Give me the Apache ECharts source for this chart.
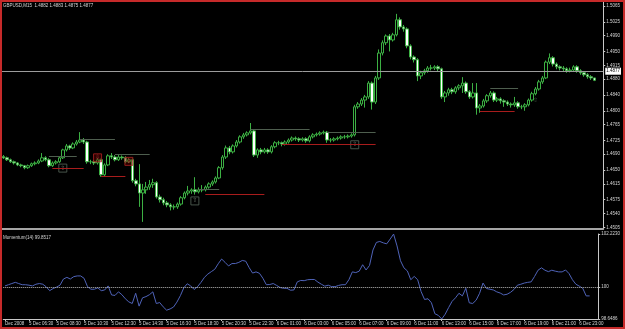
<!DOCTYPE html>
<html>
<head>
<meta charset="utf-8">
<title>GBPUSD,M15</title>
<script src="https://cdn.jsdelivr.net/npm/echarts@6/dist/echarts.min.js"></script>
<style>
html, body { margin: 0; padding: 0; background: #000; }
#chart { width: 625px; height: 329px; box-sizing: border-box; border: 2px solid #c62a2a; background: #000; }
</style>
</head>
<body>
<div id="chart"></div>
<script>
//K线数据 (M15)
var opens = [
	1.4684,1.4681,1.4676,1.4671,1.4668,1.4663,1.4661,1.4656,1.4661,1.4666,
	1.4668,1.4673,1.4681,1.4676,1.4661,1.4668,1.4671,1.4681,1.4701,1.4711,
	1.4706,1.4716,1.4721,1.4726,1.4721,1.4671,1.4671,1.4668,1.4676,1.4638,
	1.4663,1.4686,1.4683,1.4676,1.4683,1.4681,1.4671,1.4676,1.4623,1.4615,
	1.4592,1.4600,1.4607,1.4613,1.4618,1.4582,1.4575,1.4567,1.4562,1.4557,
	1.4557,1.4564,1.4580,1.4592,1.4597,1.4600,1.4595,1.4600,1.4600,1.4607,
	1.4615,1.4620,1.4630,1.4656,1.4683,1.4706,1.4696,1.4711,1.4721,1.4734,
	1.4739,1.4744,1.4749,1.4688,1.4701,1.4696,1.4701,1.4696,1.4709,1.4719,
	1.4719,1.4716,1.4721,1.4726,1.4731,1.4729,1.4726,1.4729,1.4724,1.4734,
	1.4739,1.4741,1.4744,1.4746,1.4726,1.4726,1.4729,1.4731,1.4734,1.4734,
	1.4736,1.4739,1.4810,1.4817,1.4827,1.4835,1.4870,1.4822,1.4883,1.4946,
	1.4972,1.4989,1.4979,1.4992,1.5030,1.5012,1.5007,1.4964,1.4936,1.4929,
	1.4888,1.4896,1.4901,1.4908,1.4908,1.4911,1.4906,1.4835,1.4845,1.4853,
	1.4848,1.4858,1.4863,1.4870,1.4848,1.4835,1.4845,1.4807,1.4812,1.4825,
	1.4838,1.4845,1.4827,1.4830,1.4825,1.4822,1.4817,1.4815,1.4820,1.4810,
	1.4810,1.4815,1.4827,1.4843,1.4855,1.4873,1.4883,1.4923,1.4934,1.4918,
	1.4911,1.4908,1.4906,1.4901,1.4903,1.4911,1.4901,1.4896,1.4891,1.4886,1.4883
];
var closes = [
	1.4681,1.4676,1.4671,1.4668,1.4663,1.4661,1.4656,1.4661,1.4666,1.4668,
	1.4673,1.4681,1.4676,1.4661,1.4668,1.4671,1.4681,1.4701,1.4711,1.4706,
	1.4716,1.4721,1.4726,1.4721,1.4671,1.4671,1.4668,1.4676,1.4638,1.4663,
	1.4686,1.4683,1.4676,1.4683,1.4681,1.4671,1.4676,1.4623,1.4615,1.4592,
	1.4600,1.4607,1.4613,1.4618,1.4582,1.4575,1.4567,1.4562,1.4557,1.4557,
	1.4564,1.4580,1.4592,1.4597,1.4600,1.4595,1.4600,1.4600,1.4607,1.4615,
	1.4620,1.4630,1.4656,1.4683,1.4706,1.4696,1.4711,1.4721,1.4734,1.4739,
	1.4744,1.4749,1.4688,1.4701,1.4696,1.4701,1.4696,1.4709,1.4719,1.4719,
	1.4716,1.4721,1.4726,1.4731,1.4729,1.4726,1.4729,1.4724,1.4734,1.4739,
	1.4741,1.4744,1.4746,1.4726,1.4726,1.4729,1.4731,1.4734,1.4734,1.4736,
	1.4739,1.4810,1.4817,1.4827,1.4835,1.4870,1.4822,1.4883,1.4946,1.4972,
	1.4989,1.4979,1.4992,1.5030,1.5012,1.5007,1.4964,1.4936,1.4929,1.4888,
	1.4896,1.4901,1.4908,1.4908,1.4911,1.4906,1.4835,1.4845,1.4853,1.4848,
	1.4858,1.4863,1.4870,1.4848,1.4835,1.4845,1.4807,1.4812,1.4825,1.4838,
	1.4845,1.4827,1.4830,1.4825,1.4822,1.4817,1.4815,1.4820,1.4810,1.4810,
	1.4815,1.4827,1.4843,1.4855,1.4873,1.4883,1.4923,1.4934,1.4918,1.4911,
	1.4908,1.4906,1.4901,1.4903,1.4911,1.4901,1.4896,1.4891,1.4886,1.4883,1.4877
];
var lows = [
	1.4678,1.4673,1.4668,1.4664,1.4660,1.4657,1.4652,1.4653,1.4658,1.4662,
	1.4665,1.4670,1.4672,1.4657,1.4658,1.4664,1.4668,1.4678,1.4697,1.4701,
	1.4703,1.4712,1.4718,1.4716,1.4666,1.4665,1.4663,1.4664,1.4633,1.4635,
	1.4660,1.4678,1.4672,1.4673,1.4676,1.4667,1.4668,1.4618,1.4609,1.4557,
	1.4519,1.4590,1.4600,1.4605,1.4578,1.4568,1.4561,1.4556,1.4548,1.4550,
	1.4552,1.4560,1.4576,1.4586,1.4590,1.4588,1.4591,1.4594,1.4596,1.4603,
	1.4610,1.4616,1.4627,1.4651,1.4678,1.4690,1.4692,1.4707,1.4717,1.4729,
	1.4735,1.4740,1.4683,1.4681,1.4690,1.4692,1.4691,1.4692,1.4705,1.4713,
	1.4710,1.4712,1.4717,1.4722,1.4724,1.4721,1.4722,1.4719,1.4720,1.4730,
	1.4735,1.4737,1.4740,1.4719,1.4720,1.4722,1.4725,1.4727,1.4729,1.4730,
	1.4732,1.4735,1.4805,1.4812,1.4808,1.4830,1.4803,1.4817,1.4878,1.4940,
	1.4966,1.4950,1.4975,1.4988,1.5005,1.5000,1.4958,1.4930,1.4922,1.4875,
	1.4880,1.4891,1.4896,1.4902,1.4903,1.4900,1.4830,1.4822,1.4838,1.4842,
	1.4843,1.4852,1.4845,1.4843,1.4830,1.4831,1.4790,1.4795,1.4808,1.4820,
	1.4833,1.4822,1.4822,1.4818,1.4810,1.4812,1.4808,1.4810,1.4805,1.4804,
	1.4800,1.4811,1.4823,1.4839,1.4851,1.4868,1.4880,1.4918,1.4912,1.4905,
	1.4902,1.4900,1.4896,1.4897,1.4899,1.4896,1.4891,1.4886,1.4881,1.4878,1.4875
];
var highs = [
	1.4688,1.4684,1.4679,1.4674,1.4670,1.4666,1.4663,1.4664,1.4669,1.4672,
	1.4677,1.4693,1.4685,1.4680,1.4672,1.4675,1.4685,1.4704,1.4716,1.4714,
	1.4720,1.4726,1.4746,1.4731,1.4724,1.4676,1.4675,1.4680,1.4679,1.4667,
	1.4690,1.4693,1.4688,1.4688,1.4687,1.4685,1.4680,1.4679,1.4628,1.4665,
	1.4615,1.4620,1.4625,1.4628,1.4622,1.4588,1.4580,1.4572,1.4566,1.4563,
	1.4568,1.4584,1.4596,1.4610,1.4604,1.4632,1.4606,1.4612,1.4611,1.4619,
	1.4624,1.4634,1.4660,1.4688,1.4712,1.4711,1.4715,1.4726,1.4738,1.4744,
	1.4748,1.4769,1.4752,1.4705,1.4706,1.4706,1.4705,1.4713,1.4723,1.4724,
	1.4722,1.4725,1.4730,1.4735,1.4735,1.4733,1.4733,1.4733,1.4738,1.4743,
	1.4745,1.4748,1.4750,1.4749,1.4731,1.4733,1.4735,1.4738,1.4739,1.4740,
	1.4743,1.4815,1.4822,1.4832,1.4840,1.4875,1.4874,1.4888,1.4955,1.4978,
	1.4993,1.4994,1.4997,1.5045,1.5036,1.5017,1.5011,1.4968,1.4940,1.4933,
	1.4901,1.4906,1.4913,1.4916,1.4915,1.4915,1.4909,1.4850,1.4858,1.4858,
	1.4862,1.4867,1.4885,1.4874,1.4852,1.4870,1.4870,1.4817,1.4830,1.4842,
	1.4850,1.4849,1.4835,1.4834,1.4829,1.4826,1.4821,1.4835,1.4824,1.4815,
	1.4819,1.4831,1.4848,1.4860,1.4878,1.4888,1.4927,1.4945,1.4938,1.4922,
	1.4915,1.4913,1.4910,1.4909,1.4915,1.4915,1.4905,1.4900,1.4895,1.4890,1.4883
];
//Momentum(14)
var momentum = [
	100.04,100.09,100.14,100.19,100.14,100.09,100.09,100.07,100.04,100.11,
	100.14,100.11,100.00,99.84,99.93,99.99,100.07,100.33,100.40,100.33,
	100.43,100.46,100.46,100.36,100.01,99.90,99.90,99.96,99.84,99.87,
	100.04,99.66,99.64,99.79,99.67,99.50,99.37,99.30,99.73,99.19,
	99.54,99.59,99.67,99.79,99.30,99.34,99.16,99.02,99.07,99.15,
	99.36,99.63,99.96,100.13,100.04,99.89,100.01,100.19,100.40,100.54,
	100.64,100.74,100.97,101.17,101.03,100.88,100.98,100.98,101.03,101.11,
	101.08,100.81,100.58,100.63,100.57,100.36,100.09,100.10,100.14,100.06,
	99.97,99.94,99.94,99.86,99.87,100.21,100.27,100.26,100.30,100.31,
	100.31,100.20,100.11,100.03,100.07,100.01,100.01,100.06,100.09,100.09,
	100.30,100.63,100.60,100.66,100.93,100.71,100.90,101.55,101.87,101.91,
	101.85,101.81,102.01,102.22,101.72,101.10,100.80,100.67,100.30,100.44,
	100.30,99.80,99.47,99.50,99.33,98.87,98.80,98.65,98.85,99.13,
	99.39,99.54,99.73,99.62,99.94,99.33,99.30,99.44,99.73,100.16,
	99.93,99.90,99.87,99.79,99.74,99.66,99.69,99.77,99.89,100.07,
	100.11,100.16,100.19,100.21,100.44,100.70,100.80,100.70,100.64,100.70,
	100.66,100.63,100.63,100.71,100.56,100.30,100.11,100.03,99.94,99.62,99.62
];

//坐标轴刻度
var priceTicks = [1.5065, 1.5025, 1.4990, 1.4950, 1.4915, 1.4880, 1.4840, 1.4800, 1.4765, 1.4725, 1.4690, 1.4650, 1.4615, 1.4575, 1.4540, 1.4505];
var momTicks = [98.6486, 100, 102.2230];
var timeLabels = ['Dec 2008', '5 Dec 06:30', '5 Dec 08:30', '5 Dec 10:30', '5 Dec 12:30', '5 Dec 14:30', '5 Dec 16:30',
	'5 Dec 18:30', '5 Dec 20:30', '5 Dec 22:30', '6 Dec 01:00', '6 Dec 03:00', '6 Dec 05:00', '6 Dec 07:00',
	'6 Dec 09:00', '6 Dec 11:00', '6 Dec 13:00', '6 Dec 15:00', '6 Dec 17:00', '6 Dec 19:00', '6 Dec 21:00', '6 Dec 23:00'];
var lastPrice = 1.4877;

//图上的水平线 [起始K线, 结束K线, 价格]
var greyLevels = [[13, 21, 1.4686], [22, 32, 1.4729], [32, 42, 1.4691], [56, 62, 1.4602], [71, 88, 1.4754], [93, 107, 1.4746], [140, 148, 1.4858]];
var redLevels = [[14, 23, 1.4655], [28, 35, 1.4635], [58, 75, 1.4590], [80, 107, 1.4716], [137, 147, 1.4800]];
//信号箭头 [K线, 价格]
var buyArrows = [[17, 1.4655], [55, 1.4572], [101, 1.4714]];
var sellArrows = [[27, 1.4681], [36, 1.4672]];
var hintArrows = [[153, 1.4826]];

var FONT = 'Liberation Sans';
var TXT = '#d4d4d4';
var GREEN = '#3cb043';

var chart = echarts.init(document.getElementById('chart'));

var total = closes.length + 2;		//右侧留白
var cats = [];
for (var i = 0; i < total; i++) {
	cats.push(String(i));
}
var candles = [];
for (var i = 0; i < closes.length; i++) {
	candles.push([opens[i], closes[i], lows[i], highs[i]]);
}

function showTime (idx) {
	return idx === 0 || (idx >= 7 && idx <= 167 && (idx - 7) % 8 === 0);
}
function timeText (idx) {
	return idx === 0 ? timeLabels[0] : timeLabels[(idx - 7) / 8 + 1];
}

var lines = [];
greyLevels.forEach(function (l) {
	lines.push([{ coord: [l[0], l[2]], lineStyle: { color: '#4e5e4e' } }, { coord: [l[1], l[2]] }]);
});
redLevels.forEach(function (l) {
	lines.push([{ coord: [l[0], l[2]], lineStyle: { color: '#a81c1c' } }, { coord: [l[1], l[2]] }]);
});
lines.push({
	yAxis: lastPrice,
	lineStyle: { color: '#9c9c9c' },
	label: {
		show: true, position: 'end', distance: 2, formatter: lastPrice.toFixed(4),
		backgroundColor: '#fff', color: '#000', fontSize: 4.5, fontFamily: FONT, padding: [1, 1]
	}
});

var option = {
	animation: false,
	backgroundColor: '#000',
	grid: [
		{ left: 0, top: 0, width: 605.5, height: 227 },
		{ left: 0, top: 232, width: 605.5, height: 85 }
	],
	xAxis: [
		{
			type: 'category', gridIndex: 0, data: cats,
			axisLine: { show: true, lineStyle: { color: '#a5a5a5', width: 2 } },
			axisTick: { show: false }, axisLabel: { show: false }, splitLine: { show: false }
		},
		{
			type: 'category', gridIndex: 1, data: cats,
			axisLine: { show: true, lineStyle: { color: '#c8c8c8', width: 1 } },
			axisTick: {
				show: true, alignWithLabel: true, length: 2, lineStyle: { color: '#c8c8c8' },
				interval: function (idx) { return showTime(idx); }
			},
			axisLabel: {
				interval: function (idx) { return showTime(idx); },
				formatter: function (v, idx) { return timeText(idx); },
				align: 'left', margin: 2, color: TXT, fontSize: 4.5, fontFamily: FONT
			},
			splitLine: { show: false }
		}
	],
	yAxis: [
		{
			type: 'value', gridIndex: 0, position: 'right', min: 1.4501, max: 1.5075,
			splitLine: { show: false },
			axisLine: { show: true, lineStyle: { color: '#c8c8c8', width: 1 } },
			axisTick: { show: true, customValues: priceTicks, length: 2, lineStyle: { color: '#c8c8c8' } },
			axisLabel: {
				customValues: priceTicks, formatter: function (v) { return v.toFixed(4); },
				color: TXT, fontSize: 4.5, fontFamily: FONT, margin: 3
			}
		},
		{
			type: 'value', gridIndex: 1, position: 'right', min: 98.6486, max: 102.2230,
			splitLine: { show: false },
			axisLine: { show: true, lineStyle: { color: '#c8c8c8', width: 1 } },
			axisTick: { show: true, customValues: momTicks, length: 2, lineStyle: { color: '#c8c8c8' } },
			axisLabel: {
				customValues: momTicks, formatter: function (v) { return v === 100 ? '100' : v.toFixed(4); },
				color: TXT, fontSize: 4.5, fontFamily: FONT, margin: 3
			}
		}
	],
	graphic: [
		{ type: 'text', left: 1, top: 1, style: { text: 'GBPUSD,M15  1.4882 1.4883 1.4875 1.4877', fill: TXT, fontSize: 4.5, fontFamily: FONT } },
		{ type: 'text', left: 1, top: 233, style: { text: 'Momentum(14) 99.8517', fill: TXT, fontSize: 4.5, fontFamily: FONT } }
	],
	series: [
		{
			name: 'GBPUSD', type: 'candlestick', xAxisIndex: 0, yAxisIndex: 0,
			data: candles, barWidth: 3,
			itemStyle: { color: '#000', color0: '#fff', borderColor: GREEN, borderColor0: GREEN, borderWidth: 1 },
			markLine: {
				silent: true, symbol: ['none', 'none'], label: { show: false },
				lineStyle: { type: 'solid', width: 1 },
				data: lines
			}
		},
		{
			name: 'buy', type: 'scatter', xAxisIndex: 0, yAxisIndex: 0, data: buyArrows,
			symbol: 'rect', symbolSize: 8, silent: true,
			itemStyle: { color: 'rgba(0,0,0,0)', borderColor: '#56665a', borderWidth: 1 },
			label: { show: true, position: 'inside', formatter: '⇧', color: '#7a8a7a', fontSize: 6, fontFamily: 'DejaVu Sans' }
		},
		{
			name: 'sell', type: 'scatter', xAxisIndex: 0, yAxisIndex: 0, data: sellArrows,
			symbol: 'rect', symbolSize: 8, silent: true,
			itemStyle: { color: 'rgba(110,0,0,0.5)', borderColor: '#b02222', borderWidth: 1 },
			label: { show: true, position: 'inside', formatter: '⇩', color: '#d04040', fontSize: 6, fontFamily: 'DejaVu Sans' }
		},
		{
			name: 'hint', type: 'scatter', xAxisIndex: 0, yAxisIndex: 0, data: hintArrows,
			symbol: 'rect', symbolSize: 8, silent: true,
			itemStyle: { color: 'rgba(0,0,0,0)', borderWidth: 0 },
			label: { show: true, position: 'inside', formatter: '⇧', color: '#4e6a4e', fontSize: 6, fontFamily: 'DejaVu Sans' }
		},
		{
			name: 'Momentum(14)', type: 'line', xAxisIndex: 1, yAxisIndex: 1, data: momentum,
			showSymbol: false, lineStyle: { color: '#4f63b8', width: 1 },
			markLine: {
				silent: true, symbol: ['none', 'none'], label: { show: false },
				lineStyle: { type: 'dotted', color: '#b8b8b8', width: 1 },
				data: [{ yAxis: 100 }]
			}
		}
	]
};
chart.setOption(option);
</script>
</body>
</html>
